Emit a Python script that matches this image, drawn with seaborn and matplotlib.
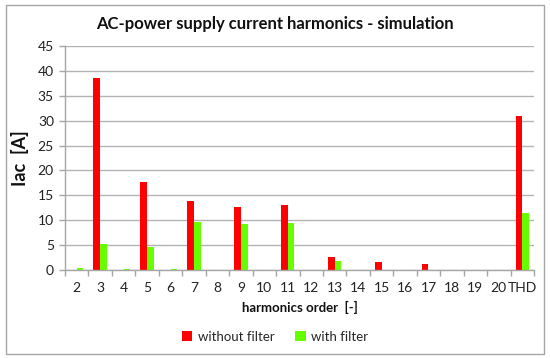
import numpy as np
import pandas as pd
import seaborn as sns
import matplotlib
matplotlib.use("Agg")
import matplotlib.pyplot as plt
from matplotlib.patches import Rectangle

orders = ["2", "3", "4", "5", "6", "7", "8", "9", "10", "11", "12", "13", "14",
          "15", "16", "17", "18", "19", "20", "THD"]
without_filter = [0.0, 38.5, 0.0, 17.7, 0.0, 13.8, 0.0, 12.7, 0.0, 13.1, 0.0,
                  2.7, 0.0, 1.7, 0.1, 1.2, 0.0, 0.1, 0.1, 30.9]
with_filter = [0.4, 5.3, 0.3, 4.7, 0.2, 9.7, 0.0, 9.3, 0.0, 9.5, 0.0,
               1.8, 0.0, 0.0, 0.0, 0.0, 0.0, 0.0, 0.0, 11.4]
series = ["without filter", "with filter"]
colors = ["#FF0000", "#66FF00"]

df = pd.DataFrame({
    "order": orders * 2,
    "value": without_filter + with_filter,
    "series": [series[0]] * len(orders) + [series[1]] * len(orders),
})

sns.set_theme(style="white")
plt.rcParams["font.family"] = ["Lato", "DejaVu Sans"]

fig = plt.figure(figsize=(5.5, 3.58), dpi=100)
ax = fig.add_axes([65 / 550, 1 - 270 / 358, (534 - 65) / 550, (270 - 46) / 358])

sns.barplot(data=df, x="order", y="value", hue="series", palette=colors,
            width=0.57, gap=0, saturation=1, ax=ax, legend=True,
            linewidth=0, edgecolor="none")

ax.set_ylim(0, 45)
ax.set_yticks(np.arange(0, 46, 5))
ax.set_xlim(-0.5, len(orders) - 0.5)
ax.yaxis.grid(True, color="#b3b3b3", linewidth=1.0)
ax.set_axisbelow(True)
for s in ["top", "right"]:
    ax.spines[s].set_visible(False)
for s in ["left", "bottom"]:
    ax.spines[s].set_color("#a6a6a6")
    ax.spines[s].set_linewidth(1.0)

ax.tick_params(axis="y", which="major", length=4, color="#a6a6a6", width=1,
               labelsize=10, labelcolor="#222222", pad=4, left=True)
ax.tick_params(axis="x", which="major", length=0, labelsize=10,
               labelcolor="#222222", pad=9)
ax.set_xticks(np.arange(-0.5, len(orders), 1.0), minor=True)
ax.tick_params(axis="x", which="minor", length=4, color="#a6a6a6", width=1,
               bottom=True)

ax.set_xlabel("harmonics order  [-]", fontsize=9.5, fontweight="bold",
              labelpad=5, color="#111111")
ax.set_ylabel("Iac  [A]", fontsize=13, fontweight="bold", labelpad=6,
              color="#111111")

handles, labels = ax.get_legend_handles_labels()
ax.legend(handles, labels, loc="center", bbox_to_anchor=(0.5, 1 - 337 / 358),
          bbox_transform=fig.transFigure, ncol=2, frameon=False, fontsize=9.5,
          handlelength=0.8, handleheight=0.8, handletextpad=0.4,
          columnspacing=1.6)

fig.text(0.5, 1 - 24 / 358, "AC-power supply current harmonics - simulation",
         ha="center", va="center", fontsize=12, fontweight="bold",
         color="#111111")

fig.patches.append(Rectangle((6 / 550, 4 / 358), 538 / 550, 349 / 358,
                             transform=fig.transFigure, fill=False,
                             edgecolor="#a6a6a6", linewidth=1.0))

fig.savefig("out.png", dpi=100)
